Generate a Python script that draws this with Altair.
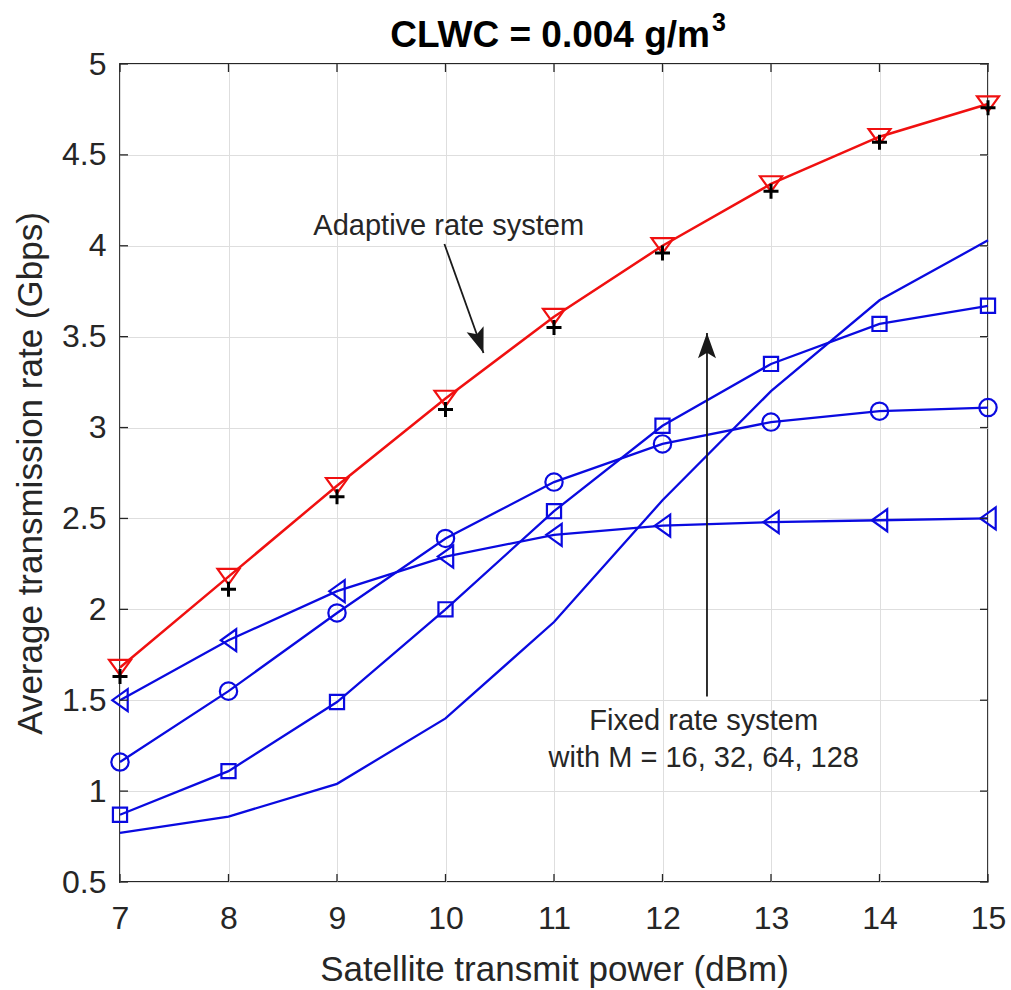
import altair as alt
import pandas as pd

# ---------------- data ----------------
x_vals = [7, 8, 9, 10, 11, 12, 13, 14, 15]
adaptive_tri = [1.68, 2.18, 2.68, 3.16, 3.61, 4.00, 4.34, 4.60, 4.78]
adaptive_plus = [1.63, 2.11, 2.62, 3.10, 3.55, 3.96, 4.30, 4.57, 4.76]
fixed_16 = [1.50, 1.83, 2.10, 2.29, 2.41, 2.46, 2.48, 2.49, 2.50]
fixed_32 = [1.16, 1.55, 1.98, 2.39, 2.70, 2.91, 3.03, 3.09, 3.11]
fixed_64 = [0.87, 1.11, 1.49, 2.00, 2.54, 3.01, 3.35, 3.57, 3.67]
fixed_128 = [0.77, 0.86, 1.04, 1.40, 1.93, 2.60, 3.20, 3.70, 4.03]

x_ticks = [7, 8, 9, 10, 11, 12, 13, 14, 15]
y_ticks = [0.5, 1, 1.5, 2, 2.5, 3, 3.5, 4, 4.5, 5]

title_main = "CLWC = 0.004 g/m"
title_sup = "3"
x_title = "Satellite transmit power (dBm)"
y_title = "Average transmission rate (Gbps)"

ann_adaptive = "Adaptive rate system"
ann_fixed = ["Fixed rate system", "with M = 16, 32, 64, 128"]

# arrows: (x, y) start -> (x2, y2) tip
arrow_adaptive = dict(x=9.99, y=4.01, x2=10.35, y2=3.41, angle=160.6)
arrow_fixed = dict(x=12.41, y=1.52, x2=12.41, y2=3.52, angle=0)

# ---------------- layout ----------------
W, H = 868, 818
BLUE = "#0a0ae0"
RED = "#f01010"
TXT = "#262626"
FONT = "Liberation Sans"

series_names = ["M16", "M32", "M64", "M128"]
blue_series = [fixed_16, fixed_32, fixed_64, fixed_128]
rows = []
for name, vals in zip(series_names, blue_series):
    for xv, yv in zip(x_vals, vals):
        rows.append({"x": xv, "y": yv, "series": name})
blue_df = pd.DataFrame(rows)
red_df = pd.DataFrame({"x": x_vals, "y": adaptive_tri})
plus_df = pd.DataFrame({"x": x_vals, "y": adaptive_plus})

xscale = alt.Scale(domain=[7, 15], nice=False, zero=False)
yscale = alt.Scale(domain=[0.5, 5], nice=False, zero=False)

X = alt.X("x:Q", scale=xscale, axis=alt.Axis(
    values=x_ticks, format="d", title=x_title, grid=True, gridColor="#dedede", gridWidth=1,
    domain=False, ticks=False, labelFontSize=32, labelFont=FONT, labelColor=TXT,
    labelPadding=46, labelBaseline="alphabetic", labelFlush=False,
    titleFontSize=35, titleFont=FONT, titleColor=TXT, titleFontWeight="normal",
    titleBaseline="alphabetic", titleY=98))
Y = alt.Y("y:Q", scale=yscale, axis=alt.Axis(
    values=y_ticks, format="~g", title=y_title, grid=True, gridColor="#dedede", gridWidth=1,
    domain=False, ticks=False, labelFontSize=32, labelFont=FONT, labelColor=TXT,
    labelPadding=14, labelFlush=False,
    titleFontSize=35, titleFont=FONT, titleColor=TXT, titleFontWeight="normal",
    titleAngle=-90, titleBaseline="alphabetic", titleX=-79, titleY=H / 2,
    titleAlign="center"))

blue_lines = alt.Chart(blue_df).mark_line(color=BLUE, strokeWidth=2.3).encode(
    x=X, y=Y, detail="series:N")

tri_left = "M0.7,-1L0.7,1L-0.7,0Z"
tri_down = "M-1,-0.7L1,-0.7L0,0.7Z"
plus_path = "M-1,0L1,0M0,-1L0,1"
arrow_head = "M0,0L0.5,1.4L0,1.1L-0.5,1.4Z"

m16 = alt.Chart(blue_df[blue_df.series == "M16"]).mark_point(
    shape=tri_left, size=484, filled=False, color=BLUE, strokeWidth=2.2, opacity=1
).encode(x="x:Q", y="y:Q")
m32 = alt.Chart(blue_df[blue_df.series == "M32"]).mark_point(
    shape="circle", size=300, filled=False, color=BLUE, strokeWidth=2.2, opacity=1
).encode(x="x:Q", y="y:Q")
m64 = alt.Chart(blue_df[blue_df.series == "M64"]).mark_point(
    shape="square", size=200, filled=False, color=BLUE, strokeWidth=2.2, opacity=1
).encode(x="x:Q", y="y:Q")

red_line = alt.Chart(red_df).mark_line(color=RED, strokeWidth=2.5).encode(x="x:Q", y="y:Q")
red_pts = alt.Chart(red_df).mark_point(
    shape=tri_down, size=484, filled=False, color=RED, strokeWidth=2.2, opacity=1
).encode(x="x:Q", y="y:Q")
plus_pts = alt.Chart(plus_df).mark_point(
    shape=plus_path, size=225, filled=False, color="black", strokeWidth=3, opacity=1
).encode(x="x:Q", y="y:Q")

# inward ticks on the frame
xt_df = pd.DataFrame({"x": x_ticks})
yt_df = pd.DataFrame({"y": y_ticks})
tick_col = TXT
xt_bottom = alt.Chart(xt_df).mark_rule(color=tick_col, strokeWidth=1.3).encode(
    x="x:Q", y=alt.value(H), y2=alt.value(H - 8))
xt_top = alt.Chart(xt_df).mark_rule(color=tick_col, strokeWidth=1.3).encode(
    x="x:Q", y=alt.value(0), y2=alt.value(8))
yt_left = alt.Chart(yt_df).mark_rule(color=tick_col, strokeWidth=1.3).encode(
    y="y:Q", x=alt.value(0), x2=alt.value(8))
yt_right = alt.Chart(yt_df).mark_rule(color=tick_col, strokeWidth=1.3).encode(
    y="y:Q", x=alt.value(W), x2=alt.value(W - 8))

# arrows
arr_df = pd.DataFrame([arrow_adaptive, arrow_fixed])
arr_lines = alt.Chart(arr_df).mark_rule(color="#1a1a1a", strokeWidth=1.8).encode(
    x="x:Q", y="y:Q", x2="x2:Q", y2="y2:Q")
arr_heads = alt.Chart(arr_df).mark_point(
    shape=arrow_head, size=1296, filled=True, color="#1a1a1a", opacity=1
).encode(x="x2:Q", y="y2:Q", angle=alt.Angle("angle:Q", scale=None))

# annotation texts
txt_df = pd.DataFrame({
    "x": [10.03, 12.38, 12.38],
    "y": [4.06, 1.336, 1.133],
    "t": [ann_adaptive, ann_fixed[0], ann_fixed[1]],
})
texts = alt.Chart(txt_df).mark_text(
    font=FONT, fontSize=29, color=TXT, align="center", baseline="alphabetic"
).encode(x="x:Q", y="y:Q", text="t:N")

# chart title (with raised superscript) as text marks above the frame
title_df = pd.DataFrame({"t": [title_main]})
sup_df = pd.DataFrame({"t": [title_sup]})
title_mark = alt.Chart(title_df).mark_text(
    font=FONT, fontSize=37, fontWeight="bold", color="black",
    align="right", baseline="alphabetic"
).encode(x=alt.value(W / 2 + 156), y=alt.value(-17), text="t:N")
sup_mark = alt.Chart(sup_df).mark_text(
    font=FONT, fontSize=25, fontWeight="bold", color="black",
    align="left", baseline="alphabetic"
).encode(x=alt.value(W / 2 + 158), y=alt.value(-33), text="t:N")

chart = alt.layer(
    blue_lines, m16, m32, m64, red_line, red_pts, plus_pts,
    arr_lines, arr_heads, texts,
    xt_bottom, xt_top, yt_left, yt_right, title_mark, sup_mark,
).properties(
    width=W, height=H,
    autosize=alt.AutoSizeParams(type="none"),
    padding={"left": 120, "top": 64, "right": 1011 - 120 - W, "bottom": 990 - 64 - H},
    background="white",
).configure_view(stroke=TXT, strokeWidth=1.8)

chart.save("out.html", embed_options={"renderer": "svg", "actions": False})
